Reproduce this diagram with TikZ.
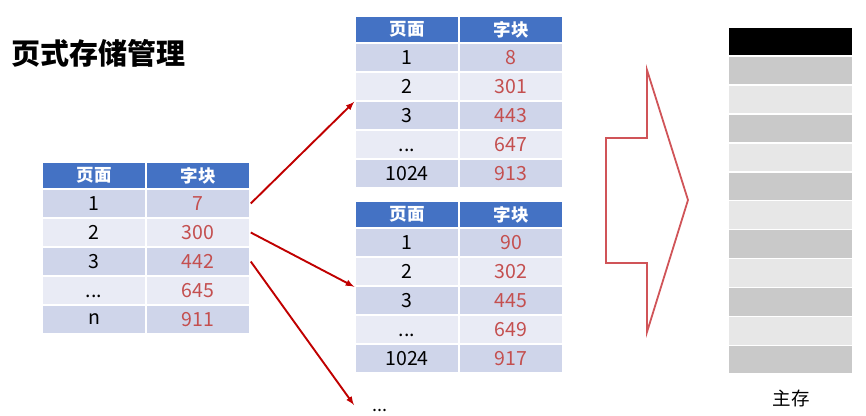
\documentclass[tikz,border=0pt]{standalone}
\usepackage{fontspec}
\setmainfont{Noto Sans CJK SC}
\usepackage{xcolor}
\usepackage{tikz}
\usetikzlibrary{arrows,positioning}

\definecolor{headblue}{RGB}{68,114,196}
\definecolor{rowdark}{RGB}{207,213,234}
\definecolor{rowlight}{RGB}{233,235,245}
\definecolor{blockred}{RGB}{196,79,79}
\definecolor{linkred}{RGB}{192,0,0}
\definecolor{bigred}{RGB}{208,84,88}
\definecolor{memdark}{RGB}{201,201,201}
\definecolor{memlight}{RGB}{231,231,231}

\newcommand{\tdots}{\vphantom{0}...}

\tikzset{
  cell/.style={draw=white, line width=1.5pt, minimum width=104pt, minimum height=29pt,
    inner sep=0pt, font=\fontsize{19.5}{19.5}\selectfont},
  headcell/.style={cell, fill=headblue, text=white, minimum height=27pt,
    font=\bfseries\fontsize{17.5}{17.5}\selectfont},
  link/.style={-latex, color=linkred, line width=1.9pt},
}

\begin{document}
\begin{tikzpicture}[x=1pt,y=-1pt]
  \useasboundingbox (0,0) rectangle (866,415);

  \node[anchor=west, font=\bfseries\fontsize{29}{29}\selectfont] (title) at (8,53) {页式存储管理};

  % page tables
  \foreach \t/\x/\y/\rows in {L/42/162/{1/7,2/300,3/442,\tdots/645,n/911},
                              A/355/16/{1/8,2/301,3/443,\tdots/647,1024/913},
                              B/355/201/{1/90,2/302,3/445,\tdots/649,1024/917}}
  {
    \node[headcell] (\t-h-p) at (\x+52,\y+13.5) {页面};
    \node[headcell] (\t-h-b) at (\x+156,\y+13.5) {字块};
    \foreach \p/\b [count=\i] in \rows {
      \ifodd\i \def\rowfill{rowdark}\else\def\rowfill{rowlight}\fi
      \node[cell, fill=\rowfill] (\t-\i-p) at (\x+52,\y+12.5+29*\i) {\p};
      \node[cell, fill=\rowfill, text=blockred] (\t-\i-b) at (\x+156,\y+12.5+29*\i) {\b};
    }
  }

  \node[font=\fontsize{18}{18}\selectfont] (more) at (380,410) {...};
  \coordinate (more-in) at (354,405);

  \draw[link] (L-1-b.east) -- (A-2-p.south west);
  \draw[link] (L-2-b.east) -- (B-2-p.south west);
  \draw[link] (L-3-b.east) -- (more-in);

  % big arrow
  \draw[color=bigred, line width=1.8pt] (606,138) -- (647,138) -- (647,70) -- (688,200)
    -- (647,332) -- (647,263) -- (606,263) -- cycle;

  % main memory
  \fill[black] (729,28) rectangle (852,55);
  \foreach \i in {1,...,11} {
    \ifodd\i \def\memfill{memdark}\else\def\memfill{memlight}\fi
    \fill[\memfill] (729,28+28.9*\i) rectangle (852,55.5+28.9*\i);
  }
  \node[font=\fontsize{18.5}{18.5}\selectfont] (mem) at (791,398) {主存};

\end{tikzpicture}
\end{document}
